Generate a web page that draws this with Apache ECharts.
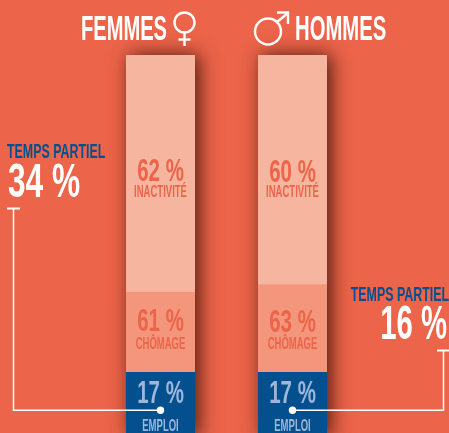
<!DOCTYPE html>
<html lang="fr">
<head>
    <meta charset="UTF-8">
    <title>Temps partiel</title>
    <script src="https://cdn.jsdelivr.net/npm/echarts@6/dist/echarts.min.js"></script>
    <style>
        html, body { margin: 0; padding: 0; background: #EC6449; overflow: hidden; }
    </style>
</head>
<body>
<div id="main" style="width:449px;height:433px;"></div>
<script type="text/javascript">
    var categories = ['FEMMES', 'HOMMES'];
    // hauteur des segments
    var emploi = [17, 17];
    var chomage = [21, 23];
    var inactivite = [62, 60];
    var total = [100, 100];
    // textes affiches (le 61/63 ne correspond pas a la hauteur, comme dans l'original)
    var emploiLabels = ['17 %', '17 %'];
    var chomageLabels = ['61 %', '63 %'];
    var inactiviteLabels = ['62 %', '60 %'];
    var tempsPartiel = ['34 %', '16 %'];
    var anchorValue = 7;

    var font = '"Liberation Sans", sans-serif';
    var white = '#fff';
    var blue = '#04508F';
    var orange = '#EC6449';
    var barW = 69;

    function segment(name, data, color) {
        return {
            name: name,
            type: 'bar',
            stack: 'a',
            z: 3,
            barWidth: barW,
            data: data,
            itemStyle: { color: color }
        };
    }

    // pas de police condensee : le texte est resserre avec scaleX
    function segmentLabels(name, base, data, texts, sub, color, numDy, subDy) {
        return {
            name: name + '-txt',
            type: 'custom',
            z: 5,
            silent: true,
            clip: false,
            data: data.map(function (v, i) { return [i, base[i] + v / 2]; }),
            renderItem: function (params, api) {
                var i = params.dataIndex;
                var c = api.coord([api.value(0), api.value(1)]);
                return {
                    type: 'group',
                    children: [
                        {
                            type: 'text', x: c[0], y: c[1] + numDy[i], scaleX: 0.66,
                            style: { text: texts[i], fontFamily: font, fontWeight: 'bold', fontSize: 31, fill: color, align: 'center', verticalAlign: 'middle' }
                        },
                        {
                            type: 'text', x: c[0], y: c[1] + subDy[i], scaleX: 0.56,
                            style: { text: sub, fontFamily: font, fontWeight: 'bold', fontSize: 17, fill: color, align: 'center', verticalAlign: 'middle' }
                        }
                    ]
                };
            }
        };
    }

    var base0 = [0, 0];
    var base1 = emploi;
    var base2 = emploi.map(function (v, i) { return v + chomage[i]; });

    var myChart = echarts.init(document.getElementById('main'));
    myChart.setOption({
        backgroundColor: orange,
        animation: false,
        grid: { left: 94.5, width: 264, top: 55, height: 382, outerBoundsMode: 'none' },
        xAxis: { type: 'category', data: categories, show: false },
        yAxis: { type: 'value', min: 0, max: 100, show: false },
        series: [
            {
                name: 'ombre',
                type: 'bar',
                barWidth: barW,
                barGap: '-100%',
                z: 1,
                silent: true,
                data: total,
                itemStyle: {
                    color: '#F6B59F',
                    shadowColor: 'rgba(50,15,5,0.85)',
                    shadowBlur: 18,
                    shadowOffsetX: 4,
                    shadowOffsetY: 0
                }
            },
            segment('emploi', emploi, blue),
            segment('chomage', chomage, '#F4967B'),
            segment('inactivite', inactivite, '#F6B59F'),
            segmentLabels('emploi', base0, emploi, emploiLabels, 'EMPLOI', '#9DB6DA', [-10, -10], [22, 22]),
            segmentLabels('chomage', base1, chomage, chomageLabels, 'CHÔMAGE', orange, [-9, -5], [12, 16]),
            segmentLabels('inactivite', base2, inactivite, inactiviteLabels, 'INACTIVITÉ', orange, [-0.5, 3.5], [19, 23])
        ]
    });

    // annotations : relie le point dans la barre au texte "temps partiel"
    var p0 = myChart.convertToPixel({ seriesIndex: 0 }, [0, anchorValue]);
    var p1 = myChart.convertToPixel({ seriesIndex: 0 }, [1, anchorValue]);
    var lineStyle = { stroke: white, lineWidth: 1.5, fill: null };
    var tickStyle = { stroke: white, lineWidth: 2, fill: null };

    function txt(x, y, s, size, color, align, sx) {
        return {
            type: 'text', x: x, y: y, z: 10, scaleX: sx,
            style: { text: s, fontFamily: font, fontWeight: 'bold', fontSize: size, fill: color, align: align, verticalAlign: 'middle' }
        };
    }

    myChart.setOption({
        graphic: [
            txt(167, 30, categories[0], 35, white, 'right', 0.575),
            txt(295, 30, categories[1], 35, white, 'left', 0.58),
            txt(7, 152, 'TEMPS PARTIEL', 20, blue, 'left', 0.62),
            txt(8, 184, tempsPartiel[0], 48, white, 'left', 0.66),
            txt(449, 295, 'TEMPS PARTIEL', 20, blue, 'right', 0.62),
            txt(447, 326, tempsPartiel[1], 48, white, 'right', 0.61),
            // symbole femme
            { type: 'circle', z: 10, shape: { cx: 184.5, cy: 22.5, r: 10 }, style: { stroke: white, lineWidth: 2.4, fill: null } },
            { type: 'polyline', z: 10, shape: { points: [[184.5, 33], [184.5, 46]] }, style: { stroke: white, lineWidth: 2.4, fill: null } },
            { type: 'polyline', z: 10, shape: { points: [[178.5, 39.5], [190.5, 39.5]] }, style: { stroke: white, lineWidth: 2.4, fill: null } },
            // symbole homme
            { type: 'circle', z: 10, shape: { cx: 268, cy: 31.5, r: 13 }, style: { stroke: white, lineWidth: 2.4, fill: null } },
            { type: 'polyline', z: 10, shape: { points: [[277, 22], [288, 13]] }, style: { stroke: white, lineWidth: 2.4, fill: null } },
            { type: 'polyline', z: 10, shape: { points: [[277, 12.5], [288, 12.5], [288, 24]] }, style: { stroke: white, lineWidth: 2.4, fill: null } },
            // renvois
            { type: 'polyline', z: 10, shape: { points: [[7, 208.5], [20, 208.5]] }, style: tickStyle },
            { type: 'polyline', z: 10, shape: { points: [[13.5, 208.5], [13.5, p0[1]], [p0[0], p0[1]]] }, style: lineStyle },
            { type: 'circle', z: 11, shape: { cx: p0[0], cy: p0[1], r: 3.7 }, style: { fill: white } },
            { type: 'polyline', z: 10, shape: { points: [[437, 350.5], [449, 350.5]] }, style: tickStyle },
            { type: 'polyline', z: 10, shape: { points: [[443.5, 350.5], [443.5, p1[1]], [p1[0], p1[1]]] }, style: lineStyle },
            { type: 'circle', z: 11, shape: { cx: p1[0], cy: p1[1], r: 3.7 }, style: { fill: white } }
        ]
    });
</script>
</body>
</html>
